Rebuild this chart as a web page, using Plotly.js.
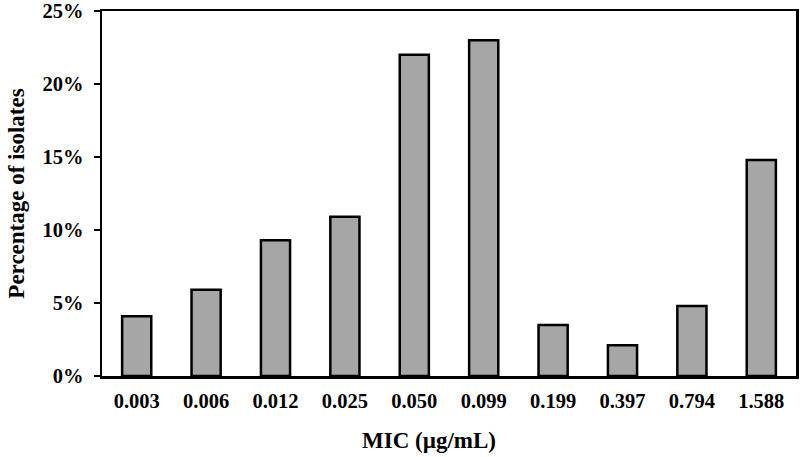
<!DOCTYPE html>
<html>
<head>
<meta charset="utf-8">
<script src="https://cdn.plot.ly/plotly-3.0.1.min.js"></script>
<style>html,body{margin:0;padding:0;background:#fff;}#chart{width:800px;height:457px;}</style>
</head>
<body>
<div id="chart"></div>
<script>
var categories = ["0.003","0.006","0.012","0.025","0.050","0.099","0.199","0.397","0.794","1.588"];
var percentages = [4.1, 5.9, 9.3, 10.9, 22.0, 23.0, 3.5, 2.1, 4.8, 14.8];
var yTickVals = [0, 5, 10, 15, 20, 25];
var yTickText = ["0%", "5%", "10%", "15%", "20%", "25%"];
var xTitle = "MIC (µg/mL)";
var yTitle = "Percentage of isolates";

var fam = "Liberation Serif, Times New Roman, serif";

var trace = {
  type: "bar",
  x: categories,
  y: percentages,
  marker: {color: "#a6a6a6", line: {color: "#000", width: 2.5}},
  hoverinfo: "none"
};

var layout = {
  width: 800, height: 457,
  margin: {l: 102, r: 4, t: 11, b: 81},
  paper_bgcolor: "#fff", plot_bgcolor: "#fff",
  bargap: 0.58,
  font: {family: fam, size: 20, color: "#000"},
  showlegend: false,
  xaxis: {
    type: "category",
    showline: true, linecolor: "#000", linewidth: 2.5, mirror: true,
    ticks: "outside", ticklen: 5, tickcolor: "rgba(0,0,0,0)",
    tickfont: {family: fam, size: 20.5, color: "#000", weight: "bold"},
    showgrid: false, zeroline: false
  },
  yaxis: {
    range: [0, 25],
    tickvals: yTickVals, ticktext: yTickText,
    showline: true, linecolor: "#000", linewidth: 2.5, mirror: true,
    ticks: "outside", ticklen: 6, tickwidth: 2, tickcolor: "#000",
    ticklabelstandoff: 6,
    tickfont: {family: fam, size: 20.5, color: "#000", weight: "bold"},
    title: {text: "<b>" + yTitle + "</b>", font: {family: fam, size: 23, color: "#000"}, standoff: 12},
    showgrid: false, zeroline: false
  },
  annotations: [{
    text: "<b>" + xTitle + "</b>",
    xref: "paper", yref: "paper",
    x: 0.4705, y: -0.178,
    xanchor: "center", yanchor: "middle",
    showarrow: false,
    font: {family: fam, size: 23, color: "#000"}
  }]
};

Plotly.newPlot("chart", [trace], layout, {staticPlot: true, displayModeBar: false});
</script>
</body>
</html>
